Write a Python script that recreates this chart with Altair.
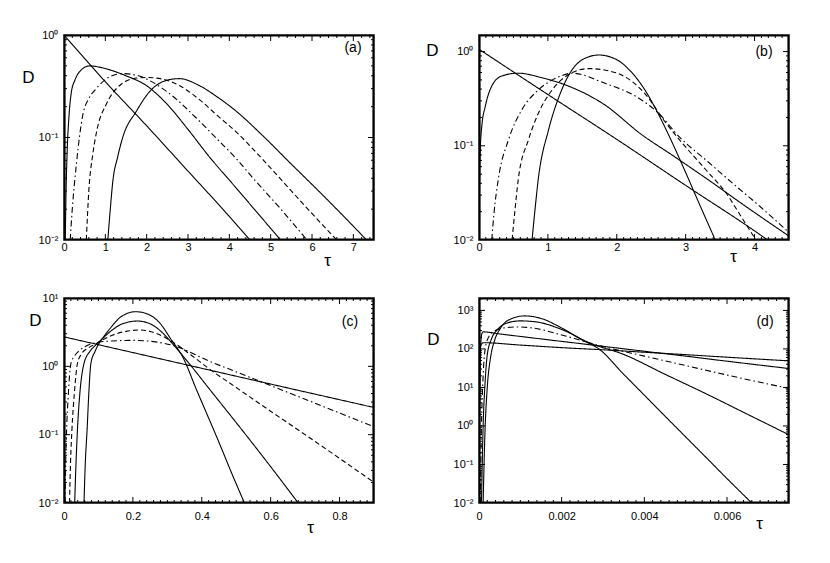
import math
import altair as alt
import pandas as pd

W, H = 310, 205

# ---------------- panel (a) ----------------
a0_t = [0, 1, 2, 3, 4, 4.5]
a0_d = [1.0, 0.35, 0.13, 0.047, 0.017, 0.01]
a1_t = [0.03, 0.05, 0.08, 0.12, 0.18, 0.26, 0.38, 0.62, 1.0, 1.5, 2.0, 2.5, 3.0, 3.5, 4.17, 4.7, 5.24]
a1_d = [0.01, 0.03, 0.08, 0.16, 0.28, 0.36, 0.44, 0.5, 0.47, 0.4, 0.32, 0.21, 0.12, 0.066, 0.032, 0.018, 0.01]
a2_t = [0.15, 0.2, 0.3, 0.46, 0.6, 0.78, 1.1, 1.42, 1.8, 2.23, 2.7, 3.2, 3.7, 4.17, 4.6, 5.2, 5.88]
a2_d = [0.01, 0.02, 0.055, 0.17, 0.24, 0.3, 0.39, 0.42, 0.4, 0.33, 0.24, 0.155, 0.097, 0.062, 0.039, 0.021, 0.01]
a3_t = [0.54, 0.6, 0.7, 0.8, 1.02, 1.34, 1.75, 2.0, 2.4, 2.8, 3.3, 3.7, 4.17, 4.7, 5.2, 5.9, 6.6]
a3_d = [0.01, 0.03, 0.07, 0.12, 0.21, 0.32, 0.38, 0.385, 0.37, 0.32, 0.23, 0.165, 0.113, 0.068, 0.041, 0.02, 0.01]
a4_t = [1.06, 1.12, 1.18, 1.3, 1.42, 1.75, 2.07, 2.47, 2.79, 3.28, 3.7, 4.17, 4.8, 5.5, 6.2, 6.8, 7.32]
a4_d = [0.01, 0.02, 0.037, 0.065, 0.1, 0.18, 0.28, 0.36, 0.375, 0.32, 0.25, 0.18, 0.105, 0.055, 0.029, 0.0165, 0.01]

# ---------------- panel (b) ----------------
b0_t = [0, 1, 2, 3, 4, 4.19]
b0_d = [1.06, 0.35, 0.117, 0.038, 0.0125, 0.01]
b1_t = [0.002, 0.008, 0.015, 0.04, 0.09, 0.185, 0.33, 0.57, 0.9, 1.3, 1.8, 2.37, 2.8, 3.3, 3.9, 4.5]
b1_d = [0.01, 0.04, 0.078, 0.16, 0.26, 0.43, 0.55, 0.59, 0.53, 0.43, 0.28, 0.13, 0.08, 0.045, 0.022, 0.011]
b2_t = [0.185, 0.22, 0.28, 0.43, 0.62, 0.86, 1.16, 1.35, 1.83, 2.32, 2.61, 2.9, 3.3, 3.7, 4.1, 4.5]
b2_d = [0.01, 0.02, 0.044, 0.117, 0.24, 0.39, 0.54, 0.59, 0.46, 0.32, 0.22, 0.126, 0.07, 0.039, 0.022, 0.012]
b3_t = [0.48, 0.52, 0.57, 0.72, 0.86, 1.06, 1.3, 1.59, 1.9, 2.1, 2.42, 2.7, 2.95, 3.3, 3.58, 3.8, 4.02]
b3_d = [0.01, 0.02, 0.044, 0.117, 0.22, 0.39, 0.57, 0.66, 0.62, 0.55, 0.35, 0.18, 0.107, 0.055, 0.032, 0.018, 0.01]
b4_t = [0.77, 0.81, 0.86, 1.01, 1.16, 1.35, 1.54, 1.74, 2.0, 2.2, 2.4, 2.6, 2.8, 3.0, 3.2, 3.43]
b4_d = [0.01, 0.02, 0.044, 0.148, 0.33, 0.64, 0.85, 0.92, 0.82, 0.62, 0.4, 0.22, 0.11, 0.052, 0.024, 0.01]

# ---------------- panel (c) ----------------
c0_t = [0, 0.3, 0.6, 0.9]
c0_d = [2.7, 1.22, 0.55, 0.25]
c1_t = [0.003, 0.005, 0.0075, 0.012, 0.02, 0.03, 0.045, 0.07, 0.1, 0.14, 0.2, 0.26, 0.32, 0.42, 0.5, 0.57, 0.7, 0.9]
c1_d = [0.01, 0.04, 0.117, 0.35, 1.1, 1.4, 1.7, 2.05, 2.25, 2.35, 2.4, 2.3, 2.0, 1.2, 0.83, 0.6, 0.33, 0.13]
c2_t = [0.016, 0.019, 0.023, 0.03, 0.039, 0.05, 0.07, 0.09, 0.11, 0.14, 0.18, 0.222, 0.27, 0.32, 0.37, 0.42, 0.5, 0.6, 0.7, 0.8, 0.9]
c2_d = [0.01, 0.04, 0.117, 0.4, 1.1, 1.5, 1.85, 2.1, 2.4, 2.85, 3.25, 3.4, 3.0, 2.2, 1.45, 0.93, 0.49, 0.22, 0.1, 0.045, 0.02]
c3_t = [0.031, 0.035, 0.039, 0.046, 0.058, 0.075, 0.09, 0.11, 0.14, 0.17, 0.213, 0.25, 0.28, 0.32, 0.37, 0.42, 0.5, 0.6, 0.68]
c3_d = [0.01, 0.04, 0.117, 0.4, 1.1, 1.65, 2.0, 2.5, 3.4, 4.2, 4.6, 4.2, 3.3, 2.0, 1.0, 0.48, 0.15, 0.034, 0.01]
c4_t = [0.058, 0.062, 0.067, 0.072, 0.078, 0.09, 0.1, 0.115, 0.136, 0.165, 0.208, 0.24, 0.28, 0.308, 0.347, 0.385, 0.415, 0.45, 0.49, 0.524]
c4_d = [0.01, 0.04, 0.117, 0.4, 1.1, 1.65, 2.1, 2.7, 3.7, 5.3, 6.3, 5.9, 4.2, 2.6, 1.3, 0.45, 0.2, 0.077, 0.025, 0.01]

# ---------------- panel (d) ----------------
d1_t = [0.000003, 0.00001, 0.00002, 0.00004, 0.0001, 0.001, 0.002, 0.003, 0.004, 0.005, 0.006, 0.0075]
d1_d = [0.01, 2, 40, 120, 145, 126, 108, 95, 82, 71, 61, 49]
d2_t = [0.000005, 0.00002, 0.00004, 0.00007, 0.0001, 0.0005, 0.001, 0.002, 0.003, 0.004, 0.005, 0.006, 0.0075]
d2_d = [0.01, 5, 120, 250, 277, 245, 211, 157, 117, 87, 65, 48, 31]
d3_t = [0.00003, 0.00006, 0.0001, 0.00015, 0.00025, 0.0004, 0.0006, 0.0009, 0.0013, 0.002, 0.003, 0.004, 0.005, 0.006, 0.0075]
d3_d = [0.01, 1, 20, 100, 220, 300, 350, 372, 350, 230, 115, 65, 37, 21, 9.4]
d4_t = [0.00006, 0.0001, 0.00015, 0.0002, 0.0003, 0.00045, 0.0007, 0.001, 0.0014, 0.002, 0.0027, 0.0035, 0.0045, 0.0055, 0.0065, 0.0075]
d4_d = [0.01, 1, 15, 70, 180, 320, 480, 535, 500, 320, 140, 72, 22, 6.8, 2.0, 0.59]
d5_t = [0.0001, 0.00014, 0.0002, 0.00028, 0.00038, 0.0005, 0.0007, 0.0011, 0.0015, 0.002, 0.0025, 0.0029, 0.0035, 0.004, 0.0045, 0.005, 0.0055, 0.006, 0.0066]
d5_d = [0.01, 0.5, 10, 60, 170, 320, 550, 720, 620, 350, 170, 100, 22, 6.3, 1.8, 0.52, 0.15, 0.043, 0.01]

# ---------------- tick labels ----------------
a_xticks = [0, 1, 2, 3, 4, 5, 6, 7]
b_xticks = [0, 1, 2, 3, 4]
c_xticks = [0, 0.2, 0.4, 0.6, 0.8]
d_xticks = [0, 0.002, 0.004, 0.006]
ab_yticks = [0.01, 0.1, 1]
c_yticks = [0.01, 0.1, 1, 10]
d_yticks = [0.01, 0.1, 1, 10, 100, 1000]

YEXPR = ("'10' + (datum.value < 0.05 ? '\u207b\u00b2' : datum.value < 0.5 ? '\u207b\u00b9' : "
         "datum.value < 5 ? '\u2070' : datum.value < 50 ? '\u00b9' : datum.value < 500 ? '\u00b2' : '\u00b3')")

DASH = alt.Scale(domain=["solid", "dashed", "dashdot"], range=[[1, 0], [5, 3], [6, 3, 1.5, 3]])


def log_minor(lo, hi):
    out = []
    for e in range(-3, 5):
        for m in range(2, 10):
            v = m * 10.0 ** e
            if lo < v < hi:
                out.append(v)
    return out


def lin_minor(lo, hi, step, majors):
    out = []
    k = 0
    while True:
        v = round(lo + k * step, 10)
        if v > hi + 1e-12:
            break
        if all(abs(v - m) > step * 1e-3 for m in majors):
            out.append(v)
        k += 1
    return out


def frame_rows(xdom, ydom, xmajor, xstep, ymajor):
    """Plot frame and inward ticks, as short segments placed through the scales."""
    rows = []
    x0, x1 = xdom
    l0, l1 = math.log10(ydom[0]), math.log10(ydom[1])

    def yat(f):
        return 10 ** (l0 + f * (l1 - l0))

    def xat(f):
        return x0 + f * (x1 - x0)

    def seg(p, q, w):
        k = "z%d" % len(rows)
        rows.append({"curve": k, "t": p[0], "d": p[1], "style": "solid", "w": w})
        rows.append({"curve": k, "t": q[0], "d": q[1], "style": "solid", "w": w})

    ymin, ymax = ydom
    seg((x0, ymin), (x1, ymin), 3.2)
    seg((x0, ymax), (x1, ymax), 3.2)
    seg((x0, ymin), (x0, ymax), 3.2)
    seg((x1, ymin), (x1, ymax), 3.2)
    xminor = lin_minor(x0, x1, xstep, xmajor)
    for vals, L in ((xmajor, 6), (xminor, 3)):
        for v in vals:
            seg((v, ymin), (v, yat(L / H)), 1)
            seg((v, ymax), (v, yat(1 - L / H)), 1)
    for vals, L in ((ymajor, 6), (log_minor(ymin, ymax), 3)):
        for v in vals:
            seg((x0, v), (xat(L / W), v), 1)
            seg((x1, v), (xat(1 - L / W), v), 1)
    return rows


def panel(curves, xdom, ydom, xmajor, xstep, ymajor, xexpr, letter, let_pos, d_pos, tau_pos, lpad):
    rows = []
    for name, (t, d, style) in curves.items():
        for ti, di in zip(t, d):
            rows.append({"curve": name, "t": ti, "d": di, "style": style, "w": 1.1})
    rows += frame_rows(xdom, ydom, xmajor, xstep, ymajor)
    df = pd.DataFrame(rows)
    xs = alt.Scale(domain=xdom, nice=False, zero=False)
    ys = alt.Scale(type="log", domain=ydom, nice=False)
    xaxis = alt.Axis(values=xmajor, labelExpr=xexpr, ticks=False, domain=False, grid=False,
                     title="τ", titleX=W + tau_pos[0], titleY=tau_pos[1], titleAlign="center",
                     titleBaseline="middle", titleFontSize=17, titleFontWeight="normal",
                     labelPadding=lpad, labelFontSize=11, labelFlush=False, labelOverlap=False)
    yaxis = alt.Axis(values=ymajor, labelExpr=YEXPR, ticks=False, domain=False, grid=False,
                     title="D", titleAngle=0, titleX=d_pos[0], titleY=d_pos[1], titleAlign="center",
                     titleBaseline="middle", titleFontSize=17, titleFontWeight="normal",
                     labelPadding=6, labelFontSize=11, labelFlush=False, labelOverlap=False)

    lines = alt.Chart(df).mark_line(color="black", clip=True, interpolate="monotone").encode(
        x=alt.X("t:Q", scale=xs, axis=xaxis),
        y=alt.Y("d:Q", scale=ys, axis=yaxis),
        detail="curve:N",
        strokeDash=alt.StrokeDash("style:N", scale=DASH, legend=None),
        strokeWidth=alt.StrokeWidth("w:Q", scale=None, legend=None),
    )
    txt = alt.Chart(pd.DataFrame({"s": [letter]})).mark_text(
        fontSize=14, font="Liberation Sans", align="center", baseline="middle", color="black"
    ).encode(text="s:N", x=alt.value(let_pos[0]), y=alt.value(let_pos[1]))
    return alt.layer(lines, txt).properties(width=W, height=H)


pa = panel({"a0": (a0_t, a0_d, "solid"), "a1": (a1_t, a1_d, "solid"), "a2": (a2_t, a2_d, "dashdot"),
            "a3": (a3_t, a3_d, "dashed"), "a4": (a4_t, a4_d, "solid")},
           [0, 7.5], [0.01, 1], a_xticks, 0.2, ab_yticks, "format(datum.value, 'd')",
           "(a)", (289, 13), (-36, 42), (-47, 20), 1)
pb = panel({"b0": (b0_t, b0_d, "solid"), "b1": (b1_t, b1_d, "solid"), "b2": (b2_t, b2_d, "dashdot"),
            "b3": (b3_t, b3_d, "dashed"), "b4": (b4_t, b4_d, "solid")},
           [0, 4.5], [0.01, 1.5], b_xticks, 0.1, ab_yticks, "format(datum.value, 'd')",
           "(b)", (285, 17), (-47, 15), (-56, 16), 1)
pc = panel({"c0": (c0_t, c0_d, "solid"), "c1": (c1_t, c1_d, "dashdot"), "c2": (c2_t, c2_d, "dashed"),
            "c3": (c3_t, c3_d, "solid"), "c4": (c4_t, c4_d, "solid")},
           [0, 0.9], [0.01, 10], c_xticks, 0.02, c_yticks,
           "datum.value == 0 ? '0' : format(datum.value, '.1f')",
           "(c)", (286, 24), (-29, 22), (-64, 24), 7)
pd_ = panel({"d1": (d1_t, d1_d, "solid"), "d2": (d2_t, d2_d, "solid"), "d3": (d3_t, d3_d, "dashdot"),
             "d4": (d4_t, d4_d, "solid"), "d5": (d5_t, d5_d, "solid")},
            [0, 0.0075], [0.01, 2100], d_xticks, 0.0002, d_yticks,
            "datum.value == 0 ? '0' : format(datum.value, '.3f')",
            "(d)", (286, 24), (-46, 41), (-30, 20), 7)

row1 = alt.hconcat(pa, pb, spacing=105, bounds="flush")
row2 = alt.hconcat(pc, pd_, spacing=105, bounds="flush")
chart = alt.vconcat(row1, row2, spacing=22).properties(
    padding={"left": 13, "top": 20, "right": 5, "bottom": 5}
).configure_axis(
    labelFont="Liberation Sans", titleFont="Liberation Sans", labelColor="black", titleColor="black"
).configure_view(stroke="black", strokeWidth=1.5)

chart.save("out.html", embed_options={"renderer": "svg", "actions": False})
